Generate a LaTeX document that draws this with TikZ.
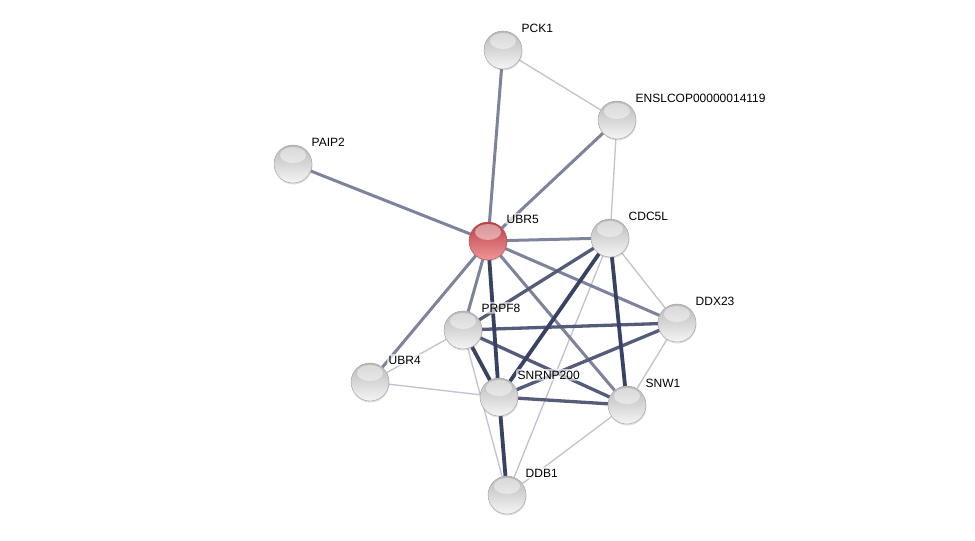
\documentclass[tikz,border=0pt]{standalone}
\usepackage{fontspec}
\setmainfont{Liberation Sans}
\usetikzlibrary{scopes,backgrounds,shadows}
\definecolor{linkweak}{RGB}{190,194,210}
\definecolor{linkmid}{RGB}{124,131,155}
\definecolor{linkstrong}{RGB}{84,92,122}
\definecolor{linktop}{RGB}{58,66,100}
\begin{document}
\begin{tikzpicture}[x=1pt,y=-1pt,
  protein/.style={circle,minimum size=38pt,inner sep=0pt,draw=gray!75,thin,
    top color=gray!55,bottom color=gray!8,
    drop shadow={opacity=0.25,shadow xshift=0.5pt,shadow yshift=-1.5pt},
    path picture={\fill[white,opacity=0.45]
      ([yshift=-10pt]path picture bounding box.north) ellipse (13pt and 8pt);}},
  query/.style={protein,draw=red!40!gray,
    top color={rgb,255:red,185;green,62;blue,70},
    bottom color={rgb,255:red,240;green,150;blue,152}},
  protlbl/.style={anchor=base west,inner sep=1.5pt,fill=white,fill opacity=0.65,
    text opacity=1,rounded corners=2pt,font=\fontsize{12}{14}\selectfont},
  weak/.style={draw=linkweak,line width=1.3pt},
  mid/.style={draw=linkmid,line width=3pt},
  strong/.style={draw=linkstrong,line width=3.3pt},
  top/.style={draw=linktop,line width=3.8pt}]
  \useasboundingbox (0,0) rectangle (975,541);
  % proteins
  \node [query] (ubr5) at (488,241) {};
  \foreach \n/\x/\y in {pck/503/50,enslcop/617/120,paip/293/164,cdc/610/238,
      ddx/677/323,prpf/463/330,ubr4/370/382,snrnp/499/397,snw/627/405,ddb/507/495}
    \node [protein] (\n) at (\x,\y) {};
  % names
  \foreach \n/\t in {pck/PCK1,enslcop/ENSLCOP00000014119,paip/PAIP2,ubr5/UBR5,
      cdc/CDC5L,ddx/DDX23,prpf/PRPF8,ubr4/UBR4,snrnp/SNRNP200,snw/SNW1,ddb/DDB1}
    \node [protlbl] at ([xshift=17pt,yshift=18pt]\n.center) {\t};
  % links
  \begin{pgfonlayer}{background}
    \fill [white] (0,0) rectangle (975,541);
    \foreach \a/\b in {pck/enslcop,enslcop/cdc,cdc/ddx,cdc/ddb,prpf/ubr4,
        prpf/ddb,snrnp/ubr4,ddx/snw,snw/ddb}
      \draw [weak] (\a) -- (\b);
    \foreach \a/\b in {pck/ubr5,enslcop/ubr5,paip/ubr5,ubr5/cdc,ubr5/ddx,
        ubr5/snw,ubr5/prpf,ubr5/ubr4}
      \draw [mid] (\a) -- (\b);
    \foreach \a/\b in {cdc/prpf,prpf/ddx,prpf/snw,snrnp/ddx,snrnp/snw}
      \draw [strong] (\a) -- (\b);
    \foreach \a/\b in {ubr5/snrnp,cdc/snrnp,cdc/snw,prpf/snrnp,snrnp/ddb}
      \draw [top] (\a) -- (\b);
  \end{pgfonlayer}
\end{tikzpicture}
\end{document}
